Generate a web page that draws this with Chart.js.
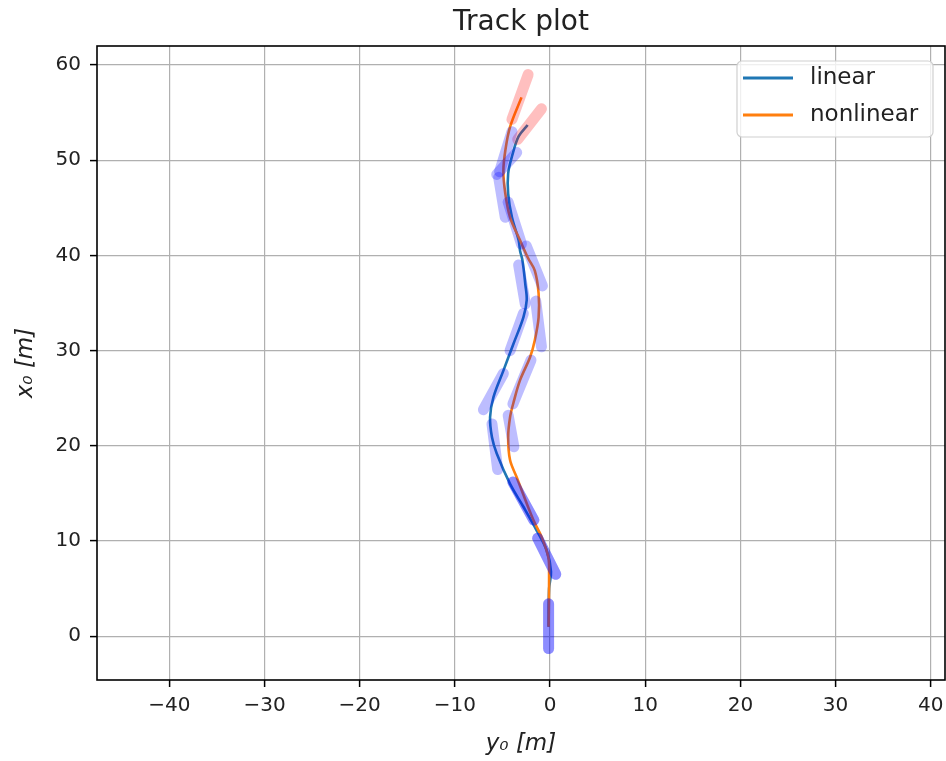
<!DOCTYPE html>
<html>
<head>
<meta charset="utf-8">
<title>Track plot</title>
<script src="https://cdn.jsdelivr.net/npm/chart.js@4.4.1/dist/chart.umd.min.js"></script>
<style>
  html, body { margin: 0; padding: 0; background: #fff; }
  #wrap { width: 946px; height: 761px; }
</style>
</head>
<body>
<div id="wrap"><canvas id="trackChart"></canvas></div>
<script>
// track data: y0 (horizontal) and x0 (vertical), metres
const seriesNames = ['linear', 'nonlinear'];
const seriesColors = ['#1f77b4', '#ff7f0e'];

const linearY0 = [-0.15, -0.1, 0.1, -0.35, -1.4, -2.8, -4.2, -5.6, -6.1, -6.3, -5.95, -4.9, -3.85, -2.8, -2.45, -2.6, -2.9, -3.15, -3.3, -4.0, -4.4, -4.4, -4.0, -3.3, -2.35];
const linearX0 = [1.0, 5.0, 6.8, 9.0, 11.1, 13.6, 16.0, 19.2, 20.9, 23.0, 25.1, 27.9, 30.7, 33.5, 35.3, 37.0, 39.5, 40.5, 41.6, 44.0, 46.5, 48.6, 50.4, 52.5, 53.7];

const nonlinearY0 = [-0.15, -0.1, -0.18, -0.87, -1.75, -3.5, -4.2, -4.4, -4.2, -3.85, -3.15, -2.1, -1.6, -1.2, -1.2, -1.6, -2.3, -3.15, -4.2, -4.7, -4.9, -4.7, -4.2, -3.0];
const nonlinearX0 = [1.0, 6.6, 8.3, 10.4, 12.2, 16.7, 18.5, 20.9, 23.0, 24.5, 26.9, 29.3, 31.1, 33.5, 36.0, 38.4, 39.7, 41.6, 44.0, 46.5, 48.9, 51.0, 53.5, 56.6];

// ship outlines: [stern y0, stern x0, bow y0, bow x0]
const shipsLinear = [
  [-0.15, -1.3, -0.15, 3.4],
  [-1.3, 10.3, 0.6, 6.5],
  [-3.9, 16.2, -1.7, 12.2],
  [-6.1, 22.3, -5.5, 17.5],
  [-7.0, 23.8, -4.9, 27.6],
  [-4.2, 30.0, -2.8, 33.9],
  [-3.3, 39.0, -2.6, 34.9],
  [-4.4, 45.6, -3.0, 41.2],
  [-5.6, 48.5, -3.5, 50.8]
];
const shipsNonlinear = [
  [-0.15, -1.3, -0.15, 3.4],
  [-1.3, 10.3, 0.6, 6.5],
  [-3.9, 16.2, -1.7, 12.2],
  [-4.4, 23.2, -3.8, 19.9],
  [-3.9, 24.4, -2.0, 29.0],
  [-1.5, 35.2, -0.9, 30.4],
  [-2.5, 41.0, -0.8, 36.8],
  [-5.4, 48.2, -4.7, 44.0],
  [-5.3, 48.8, -4.0, 53.0]
];
const shipsFinal = [
  [-3.4, 52.2, -0.9, 55.4],
  [-4.0, 54.3, -2.3, 59.0]
];

const xTicks = [-40, -30, -20, -10, 0, 10, 20, 30, 40];
const yTicks = [0, 10, 20, 30, 40, 50, 60];
const xRange = [-47.6, 41.5];
const yRange = [-4.6, 62.0];

function toPoints(xs, ys) {
  return xs.map((x, i) => ({ x: x, y: ys[i] }));
}

function shipDataset(s, color) {
  return {
    data: [{ x: s[0], y: s[1] }, { x: s[2], y: s[3] }],
    showLine: true,
    borderColor: color,
    borderWidth: 11,
    borderCapStyle: 'round',
    pointRadius: 0,
    order: 1
  };
}

const datasets = [
  {
    label: seriesNames[0],
    data: toPoints(linearY0, linearX0),
    showLine: true,
    borderColor: seriesColors[0],
    borderWidth: 2.6,
    pointRadius: 0,
    tension: 0.35,
    order: 4
  },
  {
    label: seriesNames[1],
    data: toPoints(nonlinearY0, nonlinearX0),
    showLine: true,
    borderColor: seriesColors[1],
    borderWidth: 2.6,
    pointRadius: 0,
    tension: 0.35,
    order: 3
  }
];
shipsLinear.forEach(s => datasets.push(shipDataset(s, 'rgba(0, 0, 255, 0.26)')));
shipsNonlinear.forEach(s => datasets.push(shipDataset(s, 'rgba(0, 0, 255, 0.26)')));
shipsFinal.forEach(s => datasets.push(shipDataset(s, 'rgba(255, 0, 0, 0.25)')));

function fmt(v) {
  return v < 0 ? '\u2212' + Math.abs(v) : String(v);
}

// frame around the axes + legend box in the upper right
const framePlugin = {
  id: 'framePlugin',
  afterDraw(chart) {
    const ctx = chart.ctx;
    const a = chart.chartArea;
    ctx.save();
    ctx.strokeStyle = '#000';
    ctx.lineWidth = 1.6;
    ctx.strokeRect(a.left, a.top, a.right - a.left, a.bottom - a.top);

    // legend
    const bx = 737, by = 61, bw = 196, bh = 76, r = 5;
    ctx.beginPath();
    ctx.moveTo(bx + r, by);
    ctx.arcTo(bx + bw, by, bx + bw, by + bh, r);
    ctx.arcTo(bx + bw, by + bh, bx, by + bh, r);
    ctx.arcTo(bx, by + bh, bx, by, r);
    ctx.arcTo(bx, by, bx + bw, by, r);
    ctx.closePath();
    ctx.fillStyle = 'rgba(255,255,255,0.8)';
    ctx.fill();
    ctx.strokeStyle = '#d0d0d0';
    ctx.lineWidth = 1.2;
    ctx.stroke();

    ctx.font = '23px "DejaVu Sans"';
    ctx.textBaseline = 'middle';
    ctx.fillStyle = '#222';
    seriesNames.forEach((name, i) => {
      const y = 78 + i * 37;
      ctx.strokeStyle = seriesColors[i];
      ctx.lineWidth = 2.8;
      ctx.beginPath();
      ctx.moveTo(743, y);
      ctx.lineTo(793, y);
      ctx.stroke();
      ctx.fillText(name, 810, y);
    });
    ctx.restore();
  }
};

new Chart(document.getElementById('trackChart'), {
  type: 'scatter',
  data: { datasets: datasets },
  options: {
    responsive: true,
    maintainAspectRatio: false,
    animation: false,
    layout: { padding: { left: 0, right: 1, top: 0, bottom: 0 } },
    plugins: {
      legend: { display: false },
      tooltip: { enabled: false },
      title: {
        display: true,
        fullSize: false,
        text: 'Track plot',
        color: '#222',
        font: { family: 'DejaVu Sans', size: 28, weight: 'normal' },
        padding: { top: 6, bottom: 6.4 }
      }
    },
    scales: {
      x: {
        type: 'linear',
        min: xRange[0],
        max: xRange[1],
        afterBuildTicks: scale => { scale.ticks = xTicks.map(v => ({ value: v })); },
        afterFit: scale => {
          scale.height = 81;
          scale.paddingLeft = 0;
          scale.paddingRight = 0;
        },
        grid: { color: '#b0b0b0', lineWidth: 1.2, tickColor: '#000', tickLength: 7, tickWidth: 1.5 },
        border: { display: false },
        ticks: {
          color: '#222',
          padding: 7,
          font: { family: 'DejaVu Sans', size: 20 },
          callback: v => fmt(v)
        },
        title: {
          display: true,
          text: 'y\u2080 [m]',
          color: '#222',
          font: { family: 'DejaVu Sans', size: 23, style: 'italic' },
          padding: { top: 0, bottom: 3 }
        }
      },
      y: {
        type: 'linear',
        min: yRange[0],
        max: yRange[1],
        afterBuildTicks: scale => { scale.ticks = yTicks.map(v => ({ value: v })); },
        afterFit: scale => {
          scale.width = 97;
          scale.paddingTop = 0;
          scale.paddingBottom = 0;
        },
        grid: { color: '#b0b0b0', lineWidth: 1.2, tickColor: '#000', tickLength: 7, tickWidth: 1.5 },
        border: { display: false },
        ticks: {
          color: '#222',
          padding: 9,
          font: { family: 'DejaVu Sans', size: 20 },
          callback: v => fmt(v)
        },
        title: {
          display: true,
          text: 'x\u2080 [m]',
          color: '#222',
          font: { family: 'DejaVu Sans', size: 23, style: 'italic' },
          padding: { top: 12, bottom: 0 }
        }
      }
    }
  },
  plugins: [framePlugin]
});
</script>
</body>
</html>
